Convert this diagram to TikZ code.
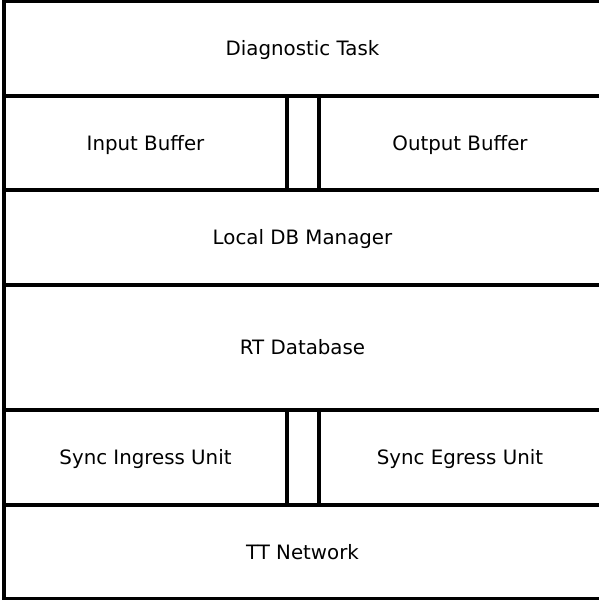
\documentclass[tikz,border=0pt]{standalone}
\usepackage{fontspec}
\setmainfont{DejaVu Sans}
\begin{document}
\begin{tikzpicture}[x=1pt,y=-1pt,
  layer/.style={draw=black, line width=3.5pt, rectangle, inner sep=0pt,
    text height=14.4pt, text depth=0pt,
    font=\fontsize{19.8}{24}\selectfont}]
\useasboundingbox (0,0) rectangle (598,600);
% full-width layers
\node[layer, minimum width=597pt, minimum height=94.5pt] (diag) at (302.5,48.75) {Diagnostic Task};
\node[layer, minimum width=597pt, minimum height=95pt] (ldb) at (302.5,237.5) {Local DB Manager};
\node[layer, minimum width=597pt, minimum height=125pt] (rtdb) at (302.5,347.5) {RT Database};
\node[layer, minimum width=597pt, minimum height=94pt] (tt) at (302.5,552) {TT Network};
% split layers with a narrow channel between them
\node[layer, minimum width=283pt, minimum height=94pt] (inbuf) at (145.5,143) {Input Buffer};
\node[layer, minimum width=32pt, minimum height=94pt] (chanA) at (303,143) {};
\node[layer, minimum width=282pt, minimum height=94pt] (outbuf) at (460,143) {Output Buffer};
\node[layer, minimum width=283pt, minimum height=95pt] (ingress) at (145.5,457.5) {Sync Ingress Unit};
\node[layer, minimum width=32pt, minimum height=95pt] (chanB) at (303,457.5) {};
\node[layer, minimum width=282pt, minimum height=95pt] (egress) at (460,457.5) {Sync Egress Unit};
\end{tikzpicture}
\end{document}
